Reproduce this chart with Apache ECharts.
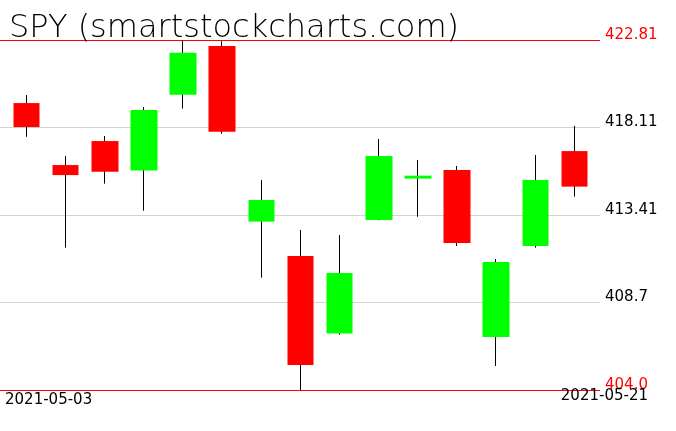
<!DOCTYPE html>
<html>
<head>
<meta charset="utf-8">
<script src="https://cdn.jsdelivr.net/npm/echarts@6/dist/echarts.min.js"></script>
<style>html,body{margin:0;padding:0;background:#fff;}#c{width:676px;height:431px;}</style>
</head>
<body>
<div id="c"></div>
<script>
const titleText = 'SPY (smartstockcharts.com)';
const dates = ['2021-05-03','2021-05-04','2021-05-05','2021-05-06','2021-05-07','2021-05-10','2021-05-11','2021-05-12','2021-05-13','2021-05-14','2021-05-17','2021-05-18','2021-05-19','2021-05-20','2021-05-21'];
const opens  = [419.42,416.09,417.38,415.79,419.87,422.49,413.05,411.20,407.03,413.14,415.36,415.82,406.85,411.74,416.84];
const closes = [418.13,415.55,415.73,419.05,422.13,417.88,414.21,405.34,410.29,416.58,415.52,411.90,410.88,415.29,414.93];
const lows   = [417.61,411.65,415.09,413.64,419.12,417.77,410.04,404.00,406.97,413.12,413.31,411.74,405.29,411.65,414.39];
const highs  = [419.85,416.58,417.65,419.21,422.78,422.74,415.29,412.60,412.33,417.49,416.36,416.04,411.04,416.63,418.19];
const yTicks = ['404.0','408.7','413.41','418.11','422.81'];
const yMin = 404.0, yMax = 422.81;

const wickData = dates.map((d,i)=>[opens[i],closes[i],lows[i],highs[i]]);
const bodyData = dates.map((d,i)=>[opens[i],closes[i],Math.min(opens[i],closes[i]),Math.max(opens[i],closes[i])]);

const FONT = 'DejaVu Sans';
const chart = echarts.init(document.getElementById('c'), null, {renderer:'canvas'});
chart.setOption({
  backgroundColor:'#ffffff',
  animation:false,
  title:{text:titleText,left:4,top:8,textStyle:{fontFamily:FONT,fontSize:32,fontWeight:200,color:'#000'}},
  grid:[
    {left:7,width:587,top:40,height:350},
    {left:0,width:600,top:40,height:350}
  ],
  xAxis:[
    {type:'category',data:dates,gridIndex:0,boundaryGap:true,axisLine:{show:false},axisTick:{show:false},axisLabel:{show:false},splitLine:{show:false}},
    {type:'value',gridIndex:1,min:0,max:1,show:false}
  ],
  yAxis:[
    {type:'value',gridIndex:0,min:yMin,max:yMax,show:false},
    {type:'value',gridIndex:1,min:yMin,max:yMax,interval:(yMax-yMin)/4,position:'right',
     axisLine:{show:false},axisTick:{show:false},
     splitLine:{show:true,lineStyle:{width:1,color:['#ff0000','#d3d3d3','#d3d3d3','#d3d3d3','#ff0000']}},
     axisLabel:{margin:5,verticalAlign:'bottom',lineHeight:10,fontFamily:FONT,fontSize:15,
       formatter:function(v){let b=0;for(let i=1;i<yTicks.length;i++){if(Math.abs(+yTicks[i]-v)<Math.abs(+yTicks[b]-v))b=i;}return yTicks[b];},
       color:function(v){return (Math.abs(v-yMin)<0.01||Math.abs(v-yMax)<0.01)?'#ff0000':'#000000';}}}
  ],
  graphic:[
    {type:'text',left:5,top:393,style:{text:dates[0],font:'15px '+FONT,fill:'#000'}},
    {type:'text',right:28,top:389,style:{text:dates[dates.length-1],font:'15px '+FONT,fill:'#000'},z:1}
  ],
  series:[
    {type:'candlestick',xAxisIndex:0,yAxisIndex:0,data:wickData,barWidth:1,z:2,
     itemStyle:{color:'#000',color0:'#000',borderColor:'#000',borderColor0:'#000',borderWidth:1}},
    {type:'candlestick',xAxisIndex:0,yAxisIndex:0,data:bodyData,barWidth:27,z:3,
     itemStyle:{color:'#00ff00',color0:'#ff0000',borderColor:'#00ff00',borderColor0:'#ff0000',borderWidth:0}}
  ]
});
</script>
</body>
</html>
